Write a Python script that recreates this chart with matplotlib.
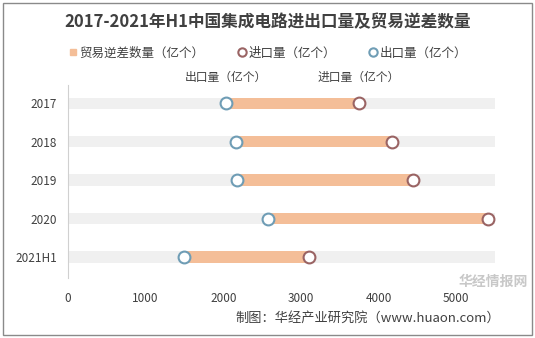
import matplotlib.pyplot as plt
from matplotlib.lines import Line2D
from matplotlib.patches import Rectangle

plt.rcParams['font.family'] = ['Noto Sans CJK SC', 'DejaVu Sans']

# data (亿个)
years = ['2017', '2018', '2019', '2020', '2021H1']
exports = [2031, 2168, 2181, 2580, 1495]
imports = [3745, 4173, 4439, 5416, 3110]
deficit = [i - e for i, e in zip(imports, exports)]
x_max = 5500
x_ticks = [0, 1000, 2000, 3000, 4000, 5000]

orange = '#F4BE98'
bg_gray = '#F0F0F0'
blue_edge = '#6F9DB5'
brown_edge = '#9A6464'

fig = plt.figure(figsize=(5.35, 3.38), dpi=100)
ax = fig.add_axes([68 / 535, 1 - 278 / 338, (495 - 68) / 535, 193 / 338])

pos = list(range(len(years)))
ax.barh(pos, [x_max] * len(years), height=0.29, color=bg_gray, zorder=1)
ax.barh(pos, deficit, left=exports, height=0.29, color=orange, zorder=2)
ax.plot(imports, pos, 'o', ms=8.5, mfc='white', mec=brown_edge, mew=1.5, ls='none', zorder=3)
ax.plot(exports, pos, 'o', ms=8.5, mfc='white', mec=blue_edge, mew=1.5, ls='none', zorder=3)

ax.set_xlim(0, x_max)
ax.set_ylim(4.545, -0.47)
ax.set_yticks(pos)
ax.set_yticklabels(years, fontsize=8.5, color='#404040')
ax.set_xticks(x_ticks)
ax.set_xticklabels([str(t) for t in x_ticks], fontsize=8.5, color='#404040')
ax.tick_params(length=0, pad=8)
ax.tick_params(axis='x', pad=10)
for s in ['top', 'right', 'bottom']:
    ax.spines[s].set_visible(False)
ax.spines['left'].set_color('#D0D0D0')

# point labels above the first row
ax.annotate('出口量（亿个）', (exports[0], 0), xytext=(0, 14), textcoords='offset points',
            ha='center', va='bottom', fontsize=8.5, color='#404040')
ax.annotate('进口量（亿个）', (imports[0], 0), xytext=(0, 14), textcoords='offset points',
            ha='center', va='bottom', fontsize=8.5, color='#404040')

fig.text(0.5, 1 - 22 / 338, '2017-2021年H1中国集成电路进出口量及贸易逆差数量',
         ha='center', va='center', fontsize=12, fontweight='bold', color='#404040')

handles = [
    Line2D([], [], marker='s', ls='none', ms=5, mfc=orange, mec=orange),
    Line2D([], [], marker='o', ls='none', ms=6, mfc='white', mec=brown_edge, mew=1.5),
    Line2D([], [], marker='o', ls='none', ms=6, mfc='white', mec=blue_edge, mew=1.5),
]
fig.legend(handles, ['贸易逆差数量（亿个）', '进口量（亿个）', '出口量（亿个）'],
           loc='center', bbox_to_anchor=(0.5, 1 - 53 / 338), ncol=3, frameon=False,
           fontsize=9, handletextpad=0.1, columnspacing=2.6, labelcolor='#404040',
           handlelength=0.8)

# watermark and source
fig.text(528 / 535, 1 - 282 / 338, '华经情报网', ha='right', va='center',
         fontsize=10, fontweight='bold', color='#C8C8C8')
fig.text(500 / 535, 1 - 318 / 338, '制图：华经产业研究院（www.huaon.com）',
         ha='right', va='center', fontsize=9.5, color='#404040')

# outer frame
fig.patches.append(Rectangle((3 / 535, 3 / 338), 529 / 535, 332 / 338, transform=fig.transFigure,
                             fill=False, ec='#8A8A8A', lw=1))

fig.savefig('out.png', dpi=100)
